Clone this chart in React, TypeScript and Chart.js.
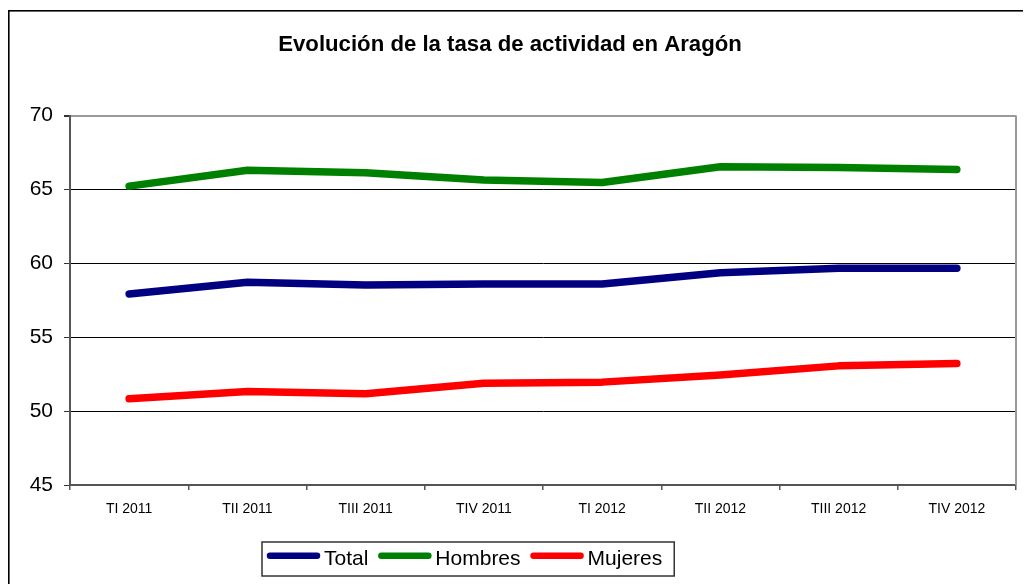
import React, { useEffect, useRef } from "react";
import { Chart, registerables } from "chart.js";

Chart.register(...registerables);

const TITLE = "Evolución de la tasa de actividad en Aragón";
const CATEGORIES = ["TI 2011", "TII 2011", "TIII 2011", "TIV 2011", "TI 2012", "TII 2012", "TIII 2012", "TIV 2012"];
const TOTAL = [57.93, 58.72, 58.53, 58.6, 58.6, 59.36, 59.66, 59.66];
const HOMBRES = [65.22, 66.3, 66.12, 65.63, 65.47, 66.53, 66.49, 66.35];
const MUJERES = [50.83, 51.32, 51.17, 51.89, 51.96, 52.45, 53.06, 53.22];
const SERIES_LABELS = ["Total", "Hombres", "Mujeres"];
const SERIES_COLORS = ["#000080", "#008000", "#FF0000"];
const Y_MIN = 45;
const Y_MAX = 70;
const Y_STEP = 5;

const FONT = 'Arial, "Liberation Sans", sans-serif';
const W = 1023;
const H = 576;

const framePlugin = {
  id: "frame",
  beforeDraw(chart: any) {
    const c = chart.ctx;
    c.save();
    c.fillStyle = "#fff";
    c.fillRect(0, 0, chart.width, chart.height);
    c.strokeStyle = "#000";
    c.lineWidth = 1.6;
    c.strokeRect(0.8, 2.8, chart.width + 20, chart.height + 20);
    // title
    c.fillStyle = "#000";
    c.font = "bold 22.2px " + FONT;
    c.textAlign = "center";
    c.textBaseline = "alphabetic";
    c.fillText(TITLE, 502, 42.7);
    c.restore();
  },
  beforeDatasetsDraw(chart: any) {
    const a = chart.chartArea;
    const c = chart.ctx;
    c.save();
    c.strokeStyle = "#9a9a9a";
    c.lineWidth = 2;
    c.beginPath();
    c.moveTo(a.right, a.top);
    c.lineTo(a.right, a.bottom);
    c.stroke();
    c.restore();
  },
  afterDraw(chart: any) {
    const c = chart.ctx;
    c.save();
    c.font = "21px " + FONT;
    c.textBaseline = "alphabetic";
    c.textAlign = "left";
    const startX = 259;
    const lineY = 547.7;
    let x = startX;
    const ds = chart.data.datasets;
    for (let i = 0; i < ds.length; i++) {
      c.strokeStyle = ds[i].borderColor;
      c.lineWidth = 6.5;
      c.lineCap = "round";
      c.beginPath();
      c.moveTo(x + 3, lineY);
      c.lineTo(x + 50, lineY);
      c.stroke();
      c.fillStyle = "#000";
      c.fillText(ds[i].label, x + 57, 557);
      x = x + 57 + c.measureText(ds[i].label).width + 10;
    }
    c.strokeStyle = "#333";
    c.lineWidth = 1.5;
    c.strokeRect(254, 534, x - 254 + 2, 34);
    c.restore();
  },
};

export default function App() {
  const ref = useRef<HTMLCanvasElement | null>(null);
  useEffect(() => {
    if (!ref.current) return;
    const datas = [TOTAL, HOMBRES, MUJERES];
    const chart = new Chart(ref.current, {
      type: "line",
      data: {
        labels: CATEGORIES,
        datasets: datas.map((d, i) => ({
          label: SERIES_LABELS[i],
          data: d,
          borderColor: SERIES_COLORS[i],
          backgroundColor: SERIES_COLORS[i],
          borderWidth: 7.5,
          borderCapStyle: "round",
          borderJoinStyle: "round",
          pointRadius: 0,
          tension: 0,
          fill: false,
        })),
      },
      options: {
        responsive: false,
        animation: false,
        devicePixelRatio: 1,
        layout: { padding: { left: 0, right: 15, top: 107.5, bottom: 49 } },
        plugins: {
          legend: { display: false },
          title: { display: false },
          tooltip: { enabled: false },
        },
        scales: {
          x: {
            type: "category",
            offset: true,
            afterFit: (s: any) => {
              s.height = 50;
            },
            grid: {
              offset: true,
              drawOnChartArea: false,
              drawTicks: true,
              tickLength: 5,
              color: "#555",
              lineWidth: 1.5,
            },
            border: { display: true, color: "#555", width: 2 },
            ticks: {
              color: "#000",
              font: { family: FONT, size: 14 },
              padding: 11,
              maxRotation: 0,
              autoSkip: false,
            },
          },
          y: {
            min: Y_MIN,
            max: Y_MAX,
            afterFit: (s: any) => {
              s.width = 62;
            },
            ticks: {
              stepSize: Y_STEP,
              color: "#000",
              font: { family: FONT, size: 21 },
              padding: 11,
            },
            grid: {
              color: (ctx: any) => (ctx.tick && ctx.tick.value === Y_MAX ? "#9a9a9a" : "#000"),
              tickColor: "#333",
              lineWidth: (ctx: any) => (ctx.tick && ctx.tick.value === Y_MAX ? 2 : 1),
              tickLength: 6,
            },
            border: { display: true, color: "#555", width: 2 },
          },
        },
      },
      plugins: [framePlugin],
    } as any);
    return () => chart.destroy();
  }, []);
  return (
    <canvas ref={ref} width={W} height={H} style={{ display: "block", width: W, height: H }} />
  );
}
